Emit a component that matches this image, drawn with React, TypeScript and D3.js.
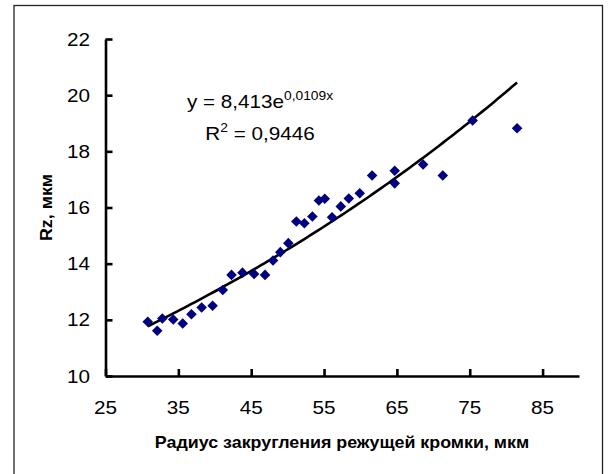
import { useEffect, useRef } from 'react';
import * as d3 from 'd3';

// edge radius, µm (x) and Rz, µm (y)
const radius = [
  30.8, 32.1, 32.8, 34.3, 35.6, 36.8, 38.2, 39.7, 41.1, 42.3, 43.8, 45.4, 46.9, 48.0, 49.0, 50.1,
  51.2, 52.3, 53.4, 54.3, 55.1, 56.1, 57.3, 58.4, 59.9, 61.6, 64.7, 64.7, 68.6, 71.3, 75.4, 81.5,
];
const rz = [
  11.93, 11.61, 12.05, 12.01, 11.87, 12.2, 12.44, 12.5, 13.06, 13.6, 13.68, 13.63, 13.6, 14.11, 14.41,
  14.73, 15.5, 15.44, 15.68, 16.25, 16.31, 15.65, 16.04, 16.32, 16.51, 17.14, 17.31, 16.86, 17.53,
  17.14, 19.1, 18.82,
];
const xTicks = [25, 35, 45, 55, 65, 75, 85];
const yTicks = [10, 12, 14, 16, 18, 20, 22];

// exponential trendline as printed on the chart
const trendA = 8.413;
const trendB = 0.0109;
const trendEq = 'y = 8,413e';
const trendExp = '0,0109x';
const r2Value = ' = 0,9446';

const xTitle = 'Радиус закругления режущей кромки, мкм';
const yTitle = 'Rz, мкм';

const FONT = '"Liberation Sans", Arial, sans-serif';
const SX = 1.15; // the source text is a bit wider than Arial

export default function App() {
  const ref = useRef(null);

  useEffect(() => {
    const width = 608;
    const height = 474;
    const svg = d3.select(ref.current);
    svg.selectAll('*').remove();
    svg.attr('viewBox', `0 0 ${width} ${height}`);

    svg
      .append('rect')
      .attr('x', 14)
      .attr('y', 5.5)
      .attr('width', 588.5)
      .attr('height', 480)
      .attr('fill', '#fff')
      .attr('stroke', '#222')
      .attr('stroke-width', 1.3);

    const x = d3.scaleLinear().domain([25, 90]).range([105.5, 579]);
    const y = d3.scaleLinear().domain([10, 22]).range([376, 39]);

    const styleAxis = (axis) => {
      axis.selectAll('text').remove();
      axis.selectAll('path, line').attr('stroke', '#000').attr('stroke-width', 2.6);
    };

    svg
      .append('g')
      .attr('transform', `translate(${x.range()[0]},0)`)
      .call(d3.axisLeft(y).tickValues(yTicks).tickSizeInner(-7).tickSizeOuter(0))
      .call(styleAxis);

    svg
      .append('g')
      .attr('transform', `translate(0,${y.range()[0]})`)
      .call(d3.axisBottom(x).tickValues(xTicks).tickSizeInner(-7).tickSizeOuter(0))
      .call(styleAxis);

    svg
      .selectAll('.y-label')
      .data(yTicks)
      .join('text')
      .attr('class', 'y-label')
      .attr('transform', (d) => `translate(90,${y(d) + 6.5}) scale(${SX},1)`)
      .attr('text-anchor', 'end')
      .attr('font-family', FONT)
      .attr('font-size', 18)
      .text((d) => d);

    svg
      .selectAll('.x-label')
      .data(xTicks)
      .join('text')
      .attr('class', 'x-label')
      .attr('transform', (d) => `translate(${x(d)},413.5) scale(${SX},1)`)
      .attr('text-anchor', 'middle')
      .attr('font-family', FONT)
      .attr('font-size', 18)
      .text((d) => d);

    svg
      .append('text')
      .attr('transform', `translate(342,448.3) scale(1.05,1)`)
      .attr('text-anchor', 'middle')
      .attr('font-family', FONT)
      .attr('font-weight', 'bold')
      .attr('font-size', 17)
      .text(xTitle);

    svg
      .append('text')
      .attr('transform', `translate(52,207.5) rotate(-90) scale(1.05,1)`)
      .attr('text-anchor', 'middle')
      .attr('font-family', FONT)
      .attr('font-weight', 'bold')
      .attr('font-size', 17)
      .text(yTitle);

    // trendline
    const [x0, x1] = d3.extent(radius);
    const trendX = d3.range(x0, x1, 0.5).concat([x1]);
    svg
      .append('path')
      .datum(trendX)
      .attr('fill', 'none')
      .attr('stroke', '#000')
      .attr('stroke-width', 2.6)
      .attr('stroke-linejoin', 'round')
      .attr(
        'd',
        d3
          .line()
          .x((d) => x(d))
          .y((d) => y(trendA * Math.exp(trendB * d)))
      );

    const diamond = d3.symbol(d3.symbolSquare, 56);
    svg
      .selectAll('.pt')
      .data(radius.map((r, i) => [r, rz[i]]))
      .join('path')
      .attr('class', 'pt')
      .attr('transform', (d) => `translate(${x(d[0])},${y(d[1])}) rotate(45)`)
      .attr('d', diamond)
      .attr('fill', '#000080');

    const eq = svg
      .append('text')
      .attr('transform', `translate(260,108.3) scale(${SX},1)`)
      .attr('text-anchor', 'middle')
      .attr('font-family', FONT)
      .attr('font-size', 18);
    eq.append('tspan').text(trendEq);
    eq.append('tspan').attr('font-size', 12).attr('dy', -8).text(trendExp);

    const r2 = svg
      .append('text')
      .attr('transform', `translate(260,140) scale(${SX},1)`)
      .attr('text-anchor', 'middle')
      .attr('font-family', FONT)
      .attr('font-size', 18);
    r2.append('tspan').text('R');
    r2.append('tspan').attr('font-size', 12).attr('dy', -8).text('2');
    r2.append('tspan').attr('dy', 8).text(r2Value);
  }, []);

  return (
    <svg
      ref={ref}
      width={608}
      height={474}
      style={{ position: 'absolute', left: 0, top: 0, display: 'block', background: '#fff' }}
    />
  );
}
